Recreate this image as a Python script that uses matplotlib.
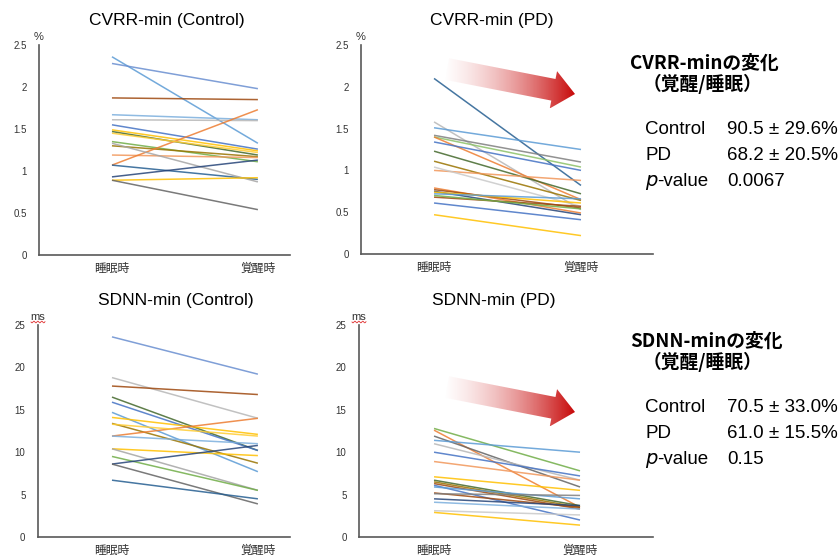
import matplotlib
matplotlib.use("Agg")
import matplotlib.pyplot as plt
from matplotlib.patches import Polygon
import numpy as np

plt.rcParams['font.family'] = ['Liberation Sans', 'Noto Sans CJK JP', 'DejaVu Sans']

W, H = 838, 557

categories = ['睡眠時', '覚醒時']

# CVRR-min (Control)
cvrr_ctrl_sleep = [2.36, 2.28, 1.87, 1.67, 1.61, 1.55, 1.49, 1.47, 1.35, 1.30, 1.19, 1.07, 1.07, 1.33, 0.93, 0.89, 0.89, 1.45]
cvrr_ctrl_wake = [1.33, 1.98, 1.85, 1.61, 1.60, 1.26, 1.24, 1.19, 1.11, 1.17, 1.16, 1.73, 0.90, 0.87, 1.13, 0.92, 0.54, 1.22]
cvrr_ctrl_colors = ['#5B9BD5', '#698ED0', '#9E480E', '#7CAFDD', '#B7B7B7', '#4472C4', '#FFC000', '#43682B', '#70AD47',
                    '#997300', '#F1975A', '#ED7D31', '#255E91', '#A5A5A5', '#264478', '#FFC000', '#636363', '#FFCD33']

# CVRR-min (PD)
cvrr_pd_sleep = [2.10, 1.58, 1.51, 1.42, 1.40, 1.40, 1.34, 1.23, 1.11, 1.00, 1.04, 0.79, 0.77, 0.75, 0.74, 0.72, 0.68, 0.61, 0.47, 0.70]
cvrr_pd_wake = [0.82, 0.53, 1.25, 1.10, 1.04, 0.65, 1.00, 0.72, 0.64, 0.88, 0.57, 0.49, 0.55, 0.47, 0.61, 0.66, 0.57, 0.41, 0.22, 0.54]
cvrr_pd_colors = ['#255E91', '#B7B7B7', '#5B9BD5', '#7F7F7F', '#8CC168', '#ED7D31', '#4472C4', '#43682B', '#997300', '#F1975A',
                  '#C9C9C9', '#ED7D31', '#9E480E', '#264478', '#FFC000', '#5B9BD5', '#9E480E', '#4472C4', '#FFC000', '#70AD47']

# SDNN-min (Control)
sdnn_ctrl_sleep = [23.6, 18.8, 17.8, 16.5, 15.9, 14.7, 14.1, 13.4, 11.9, 11.9, 10.4, 10.4, 9.5, 8.6, 8.6, 6.7, 13.3]
sdnn_ctrl_wake = [19.2, 14.0, 16.8, 10.2, 10.2, 7.7, 12.1, 8.7, 14.0, 11.0, 9.6, 5.5, 5.5, 10.8, 3.9, 4.5, 11.9]
sdnn_ctrl_colors = ['#698ED0', '#B7B7B7', '#9E480E', '#43682B', '#4472C4', '#5B9BD5', '#FFC000', '#997300', '#ED7D31',
                    '#7CAFDD', '#FFC000', '#A5A5A5', '#70AD47', '#264478', '#636363', '#255E91', '#FFCD33']

# SDNN-min (PD)
sdnn_pd_sleep = [12.8, 12.6, 11.9, 11.4, 11.0, 10.0, 8.9, 7.1, 6.7, 6.5, 6.3, 6.1, 5.9, 5.2, 4.5, 4.1, 3.1, 2.9, 5.1]
sdnn_pd_wake = [7.8, 3.5, 5.9, 10.0, 6.7, 7.2, 6.7, 5.5, 3.7, 3.5, 3.3, 2.0, 4.5, 3.5, 3.7, 3.3, 2.6, 1.4, 4.9]
sdnn_pd_colors = ['#70AD47', '#ED7D31', '#636363', '#5B9BD5', '#B7B7B7', '#4472C4', '#F1975A', '#FFC000', '#43682B', '#997300',
                  '#9E480E', '#4472C4', '#5B9BD5', '#9E480E', '#264478', '#7CAFDD', '#C9C9C9', '#FFC000', '#7F7F7F']

cvrr_ticks = [0, 0.5, 1, 1.5, 2, 2.5]
cvrr_ticklabels = ['0', '0.5', '1', '1.5', '2', '2.5']
sdnn_ticks = [0, 5, 10, 15, 20, 25]
sdnn_ticklabels = ['0', '5', '10', '15', '20', '25']

stats_cvrr = [('Control', '90.5 ± 29.6%'), ('PD', '68.2 ± 20.5%'), ('p', '0.0067')]
stats_sdnn = [('Control', '70.5 ± 33.0%'), ('PD', '61.0 ± 15.5%'), ('p', '0.15')]


def fx(x):
    return x / W


def fy(y):
    return 1 - y / H


fig = plt.figure(figsize=(W / 100, H / 100), dpi=100)

# panel boxes in pixels: left, right, top, bottom, xlim
panels = [
    (39, 290, 45, 255, (-0.5, 1.22), cvrr_ctrl_sleep, cvrr_ctrl_wake, cvrr_ctrl_colors, cvrr_ticks, cvrr_ticklabels, '%', 'CVRR-min (Control)', 167, 20),
    (361, 653, 45, 254, (-0.497, 1.49), cvrr_pd_sleep, cvrr_pd_wake, cvrr_pd_colors, cvrr_ticks, cvrr_ticklabels, '%', 'CVRR-min (PD)', 492, 20),
    (38, 290, 325, 537, (-0.507, 1.22), sdnn_ctrl_sleep, sdnn_ctrl_wake, sdnn_ctrl_colors, sdnn_ticks, sdnn_ticklabels, 'ms', 'SDNN-min (Control)', 176, 301),
    (359, 653, 325, 537, (-0.514, 1.50), sdnn_pd_sleep, sdnn_pd_wake, sdnn_pd_colors, sdnn_ticks, sdnn_ticklabels, 'ms', 'SDNN-min (PD)', 494, 301),
]

for (l, r, t, b, xl, s, w, cols, ticks, tlabels, unit, title, tx, ty) in panels:
    ax = fig.add_axes([fx(l), fy(b), (r - l) / W, (b - t) / H])
    for a, c, col in zip(s, w, cols):
        ax.plot([0, 1], [a, c], color=col, lw=1.1, alpha=0.85, solid_capstyle='butt')
    ax.set_xlim(*xl)
    ax.set_ylim(ticks[0], ticks[-1])
    ax.set_yticks(ticks)
    ax.set_yticklabels(tlabels, fontsize=7, color='#333333')
    ax.set_xticks([0, 1])
    ax.set_xticklabels(categories, fontsize=8.5, color='#333333', family=['Noto Sans CJK JP'])
    ax.tick_params(length=0, pad=9, axis='y')
    ax.tick_params(length=0, pad=5, axis='x')
    for sp in ['top', 'right']:
        ax.spines[sp].set_visible(False)
    for sp in ['left', 'bottom']:
        ax.spines[sp].set_color('#595959')
        ax.spines[sp].set_linewidth(1.2)
    ax.patch.set_alpha(0)
    fig.text(fx(l), fy(t - 8), unit, fontsize=8, ha='center', va='center', color='#333333')
    fig.text(fx(tx), fy(ty), title, fontsize=12.5, ha='center', va='center', color='black')

# overlay in pixel coordinates for arrows and annotations
ov = fig.add_axes([0, 0, 1, 1], zorder=5)
ov.set_xlim(0, W)
ov.set_ylim(H, 0)
ov.axis('off')
ov.patch.set_alpha(0)

# red gradient arrows
grad = np.zeros((2, 256, 4))
grad[..., 0] = np.linspace(0.95, 0.78, 256)
grad[..., 1] = np.linspace(0.75, 0.02, 256)
grad[..., 2] = np.linspace(0.75, 0.02, 256)
grad[..., 3] = np.linspace(0.0, 1.0, 256) ** 0.8

for dy in [0, 318]:
    p0 = np.array([447.0, 69.0 + dy])
    tip = np.array([575.0, 94.0 + dy])
    d = (tip - p0) / np.linalg.norm(tip - p0)
    n = np.array([-d[1], d[0]])
    L = np.linalg.norm(tip - p0)
    hb = L - 22
    pts = [p0 + n * 11, p0 + d * hb + n * 11, p0 + d * hb + n * 19, tip,
           p0 + d * hb - n * 19, p0 + d * hb - n * 11, p0 - n * 11]
    poly = Polygon(pts, closed=True, facecolor='none', edgecolor='none')
    ov.add_patch(poly)
    xs = [q[0] for q in pts]
    ys = [q[1] for q in pts]
    im = ov.imshow(grad, extent=(min(xs), max(xs), max(ys), min(ys)), aspect='auto', interpolation='bilinear')
    im.set_clip_path(poly)
ov.set_xlim(0, W)
ov.set_ylim(H, 0)

# red wavy underline under "ms"
for x0 in [31, 352]:
    wx = np.linspace(x0, x0 + 14, 60)
    ov.plot(wx, 322 + 0.8 * np.sin((wx - x0) * 1.6), color='#E03030', lw=0.6)

# right-side summary text
jp = ['Noto Sans CJK JP']
for (head_y, name, stats) in [(63, 'CVRR-min', stats_cvrr), (341, 'SDNN-min', stats_sdnn)]:
    ov.text(630, head_y, name + 'の変化', fontsize=13.5, fontweight='bold', family=jp, va='center', ha='left')
    ov.text(643, head_y + 21, '（覚醒/睡眠）', fontsize=13.5, fontweight='bold', family=jp, va='center', ha='left')
    rows_y = [head_y + 66, head_y + 93, head_y + 119]
    for (lab, val), yy in zip(stats, rows_y):
        if lab == 'p':
            ov.text(645, yy, r'$p$', fontsize=14, va='center', ha='left')
            ov.text(657, yy, '-value', fontsize=13.5, va='center', ha='left')
        else:
            ov.text(645, yy, lab, fontsize=13.5, va='center', ha='left')
        ov.text(727, yy, val, fontsize=13.5, va='center', ha='left', family=['Liberation Sans', 'Noto Sans CJK JP'])

fig.savefig('out.png', dpi=100)
